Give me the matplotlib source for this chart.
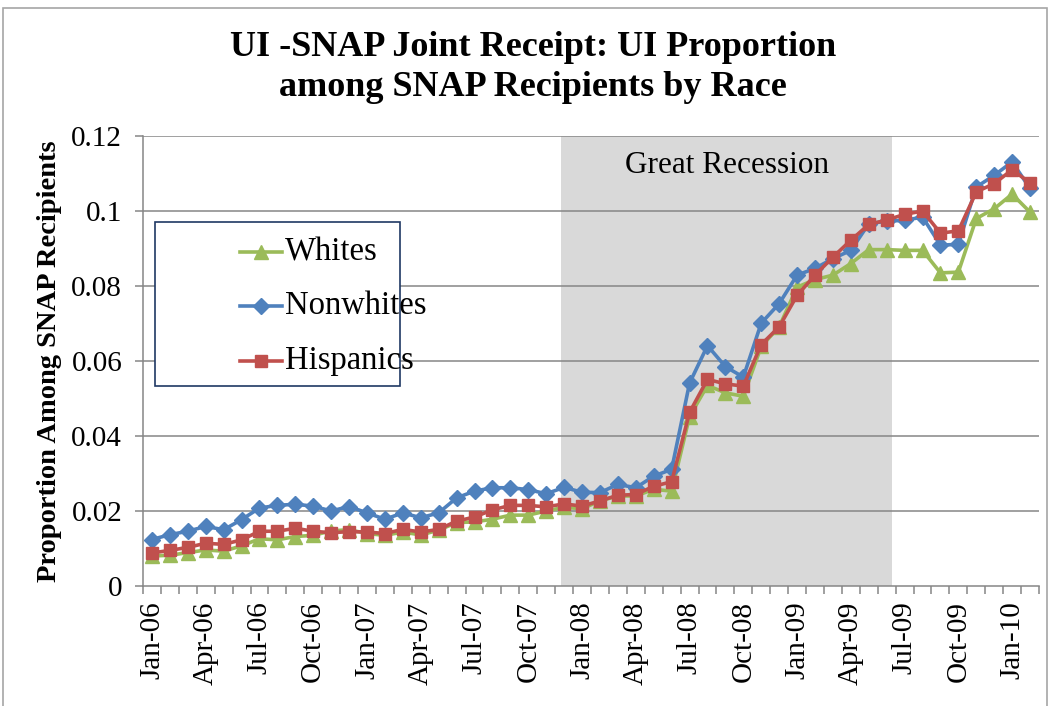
import matplotlib
matplotlib.use("Agg")
import matplotlib.pyplot as plt
from matplotlib.lines import Line2D
from matplotlib.patches import Rectangle

# ---------------- data ----------------
months = ["Jan-06", "Feb-06", "Mar-06", "Apr-06", "May-06", "Jun-06", "Jul-06", "Aug-06", "Sep-06", "Oct-06",
          "Nov-06", "Dec-06", "Jan-07", "Feb-07", "Mar-07", "Apr-07", "May-07", "Jun-07", "Jul-07", "Aug-07",
          "Sep-07", "Oct-07", "Nov-07", "Dec-07", "Jan-08", "Feb-08", "Mar-08", "Apr-08", "May-08", "Jun-08",
          "Jul-08", "Aug-08", "Sep-08", "Oct-08", "Nov-08", "Dec-08", "Jan-09", "Feb-09", "Mar-09", "Apr-09",
          "May-09", "Jun-09", "Jul-09", "Aug-09", "Sep-09", "Oct-09", "Nov-09", "Dec-09", "Jan-10", "Feb-10"]

whites = [0.0080, 0.0082, 0.0089, 0.0096, 0.0093, 0.0107, 0.0126, 0.0123, 0.0132, 0.0135,
          0.0147, 0.0150, 0.0140, 0.0135, 0.0144, 0.0136, 0.0149, 0.0169, 0.0171, 0.0178,
          0.0189, 0.0189, 0.0200, 0.0210, 0.0206, 0.0227, 0.0240, 0.0240, 0.0258, 0.0253,
          0.0452, 0.0535, 0.0515, 0.0506, 0.0639, 0.0691, 0.0797, 0.0817, 0.0829, 0.0860,
          0.0897, 0.0897, 0.0895, 0.0895, 0.0835, 0.0837, 0.0980, 0.1006, 0.1045, 0.0997]

nonwhites = [0.0124, 0.0137, 0.0146, 0.0159, 0.0150, 0.0177, 0.0208, 0.0215, 0.0218, 0.0213,
             0.0200, 0.0212, 0.0195, 0.0178, 0.0195, 0.0182, 0.0195, 0.0235, 0.0253, 0.0262,
             0.0262, 0.0257, 0.0246, 0.0263, 0.0250, 0.0249, 0.0271, 0.0262, 0.0293, 0.0311,
             0.0541, 0.0641, 0.0585, 0.0557, 0.0701, 0.0753, 0.0829, 0.0847, 0.0873, 0.0895,
             0.0966, 0.0973, 0.0975, 0.0984, 0.0909, 0.0911, 0.1064, 0.1095, 0.1131, 0.1060]

hispanics = [0.0088, 0.0095, 0.0103, 0.0114, 0.0111, 0.0123, 0.0146, 0.0146, 0.0154, 0.0146,
             0.0142, 0.0145, 0.0144, 0.0140, 0.0151, 0.0144, 0.0151, 0.0173, 0.0184, 0.0203,
             0.0215, 0.0215, 0.0211, 0.0219, 0.0213, 0.0227, 0.0242, 0.0244, 0.0266, 0.0278,
             0.0463, 0.0551, 0.0539, 0.0533, 0.0644, 0.0691, 0.0775, 0.0829, 0.0877, 0.0922,
             0.0964, 0.0976, 0.0991, 0.1000, 0.0941, 0.0947, 0.1051, 0.1073, 0.1110, 0.1075]

series_names = ["Whites", "Nonwhites", "Hispanics"]
recession_start = "Dec-07"
recession_end = "Jun-09"
y_ticks = [0, 0.02, 0.04, 0.06, 0.08, 0.1, 0.12]
y_tick_labels = ["0", "0.02", "0.04", "0.06", "0.08", "0.1", "0.12"]

# ---------------- style ----------------
GREEN = "#9BBB59"
BLUE = "#4F81BD"
RED = "#C0504D"
SERIF = ["Liberation Serif", "DejaVu Serif"]
plt.rcParams["font.family"] = SERIF

W, H = 1051, 706
fig = plt.figure(figsize=(W / 100, H / 100), dpi=100)

def fx(px):
    return px / W

def fy(py):
    return 1 - py / H

L, R, T, B = 143, 1039, 136, 586
ax = fig.add_axes([fx(L), fy(B), fx(R) - fx(L), fy(T) - fy(B)])

x = list(range(len(months)))
n = len(months)
ax.set_xlim(-0.5, n - 0.5)
ax.set_ylim(0, 0.12)

# recession shading
i0 = months.index(recession_start)
i1 = months.index(recession_end)
ax.axvspan(i0 - 0.15, i1 + 0.3, color="#D9D9D9", zorder=0, lw=0)
ax.text((i0 - 0.15 + i1 + 0.3) / 2, 0.1122, "Great Recession", ha="center", va="center",
        fontsize=22.5, color="black", zorder=1)

# grid
for yv in y_ticks[1:]:
    ax.axhline(yv, color="#868686", lw=1.1, zorder=1)

styles = [(whites, GREEN, "^", 10.5), (nonwhites, BLUE, "D", 8.5), (hispanics, RED, "s", 9)]
for (vals, col, mk, ms), name in zip(styles, series_names):
    ax.plot(x, vals, color=col, lw=2.6, marker=mk, markersize=ms, markeredgecolor=col,
            markerfacecolor=col, zorder=3, label=name)

# spines
for s in ["top", "right"]:
    ax.spines[s].set_visible(False)
for s in ["left", "bottom"]:
    ax.spines[s].set_color("#868686")
    ax.spines[s].set_linewidth(1.1)

ax.set_yticks(y_ticks)
ax.set_yticklabels(y_tick_labels, fontsize=21)
ax.tick_params(axis="y", direction="out", length=6, color="#868686", width=1.1, pad=9)

ax.set_xticks([i - 0.5 for i in range(n + 1)])
ax.set_xticklabels([])
ax.tick_params(axis="x", which="major", direction="out", length=6, color="#868686", width=1.1)
lab_pos = [i for i in x if i % 3 == 0]
ax.set_xticks(lab_pos, minor=True)
ax.set_xticklabels([months[i] for i in lab_pos], minor=True, rotation=90, fontsize=21)
ax.tick_params(axis="x", which="minor", length=0, pad=11)

ax.set_ylabel("Proportion Among SNAP Recipients", fontsize=20.5, fontweight="bold")
ax.yaxis.set_label_coords((fx(62) - fx(L)) / (fx(R) - fx(L)), 0.5)

# title
fig.text(fx(533), fy(47), "UI -SNAP Joint Receipt: UI Proportion", ha="center", va="center",
         fontsize=26, fontweight="bold")
fig.text(fx(533), fy(87), "among SNAP Recipients by Race", ha="center", va="center",
         fontsize=26, fontweight="bold")

# legend (manual box)
fig.patches.append(Rectangle((fx(155), fy(386)), fx(400) - fx(155), fy(222) - fy(386),
                             transform=fig.transFigure, facecolor="white", edgecolor="#1F3864",
                             lw=1.2, zorder=5))
leg_y = [252, 306, 361]
for (vals, col, mk, ms), name, ly in zip(styles, series_names, leg_y):
    fig.lines.append(Line2D([fx(240), fx(282)], [fy(ly), fy(ly)], transform=fig.transFigure,
                            color=col, lw=2.6, zorder=6))
    fig.lines.append(Line2D([fx(261)], [fy(ly)], transform=fig.transFigure, color=col,
                            marker=mk, markersize=ms, lw=0, zorder=7))
    fig.text(fx(285), fy(ly), name, ha="left", va="center", fontsize=23.5, zorder=8)

# chart area border
fig.patches.append(Rectangle((fx(3), fy(720)), fx(1047) - fx(3), fy(8) - fy(720),
                             transform=fig.transFigure, facecolor="none", edgecolor="#A6A6A6",
                             lw=1.2, zorder=0))

fig.savefig("out.png", dpi=100)
